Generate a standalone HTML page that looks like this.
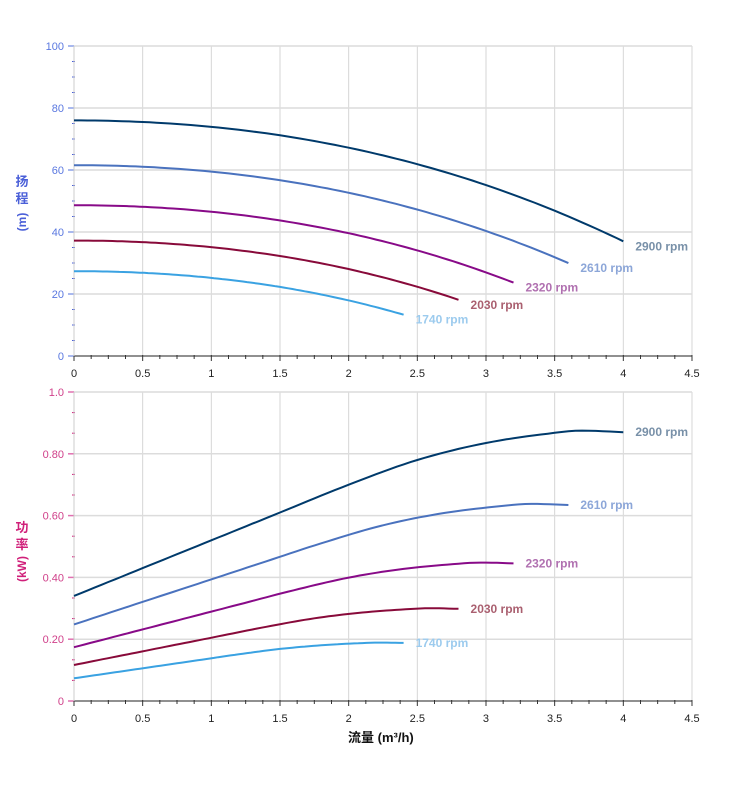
<!DOCTYPE html>
<html><head><meta charset="utf-8">
<style>
html,body{margin:0;padding:0;background:#fff;}
svg text{font-family:"Liberation Sans","Noto Sans CJK SC",sans-serif;}
</style></head>
<body>
<svg id="s" width="752" height="797" xmlns="http://www.w3.org/2000/svg"></svg>
<script>
const s=document.getElementById('s');
let h='';
const X0=74,XU=137.33;
const xp=q=>X0+q*XU;
const yt=v=>356-v*3.1, yb=v=>701-v*309;
function grid(ytop,ybot){
  for(let i=0;i<=9;i++){const x=xp(i*0.5);h+=`<line x1="${x}" y1="${ytop}" x2="${x}" y2="${ybot}" stroke="#d6d6d6" stroke-width="1"/>`;}
}
grid(46,356);grid(392,701);
for(let v=0;v<=100;v+=20){const y=yt(v);h+=`<line x1="74" y1="${y}" x2="692" y2="${y}" stroke="#dcdcdc" stroke-width="1.5"/>`;
 h+=`<line x1="68" y1="${y}" x2="74" y2="${y}" stroke="#8aa0e8" stroke-width="1.5"/><text x="64" y="${y+4}" font-size="11" fill="#5a78e0" text-anchor="end">${v}</text>`;}
for(let v=5;v<100;v+=5){if(v%20)h+=`<line x1="72" y1="${yt(v)}" x2="75" y2="${yt(v)}" stroke="#4a5fd8" stroke-width="1"/>`;}
const pl=["0","0.20","0.40","0.60","0.80","1.0"];
for(let i=0;i<=5;i++){const y=yb(i*0.2);h+=`<line x1="74" y1="${y}" x2="692" y2="${y}" stroke="#dcdcdc" stroke-width="1.5"/>`;
 h+=`<line x1="68" y1="${y}" x2="74" y2="${y}" stroke="#e070b0" stroke-width="1.5"/><text x="64" y="${y+4}" font-size="11" fill="#d0408a" text-anchor="end">${pl[i]}</text>`;}
for(let k=1;k<15;k++){if(k%3)h+=`<line x1="72" y1="${yb(k/15)}" x2="75" y2="${yb(k/15)}" stroke="#d0207a" stroke-width="1"/>`;}
function xaxis(y){
  h+=`<line x1="74" y1="${y}" x2="692" y2="${y}" stroke="#333" stroke-width="1"/>`;
  for(let k=0;k<=36;k++){const x=xp(k*0.125);h+=`<line x1="${x}" y1="${y-1}" x2="${x}" y2="${y+(k%4?3:5)}" stroke="#333" stroke-width="1"/>`;}
  for(let i=0;i<=9;i++){h+=`<text x="${xp(i*0.5)}" y="${y+21}" font-size="11" fill="#222" text-anchor="middle">${i*0.5}</text>`;}
}
xaxis(356);xaxis(701);
h+=`<line x1="74" y1="46" x2="74" y2="356" stroke="#ccc"/><line x1="74" y1="392" x2="74" y2="701" stroke="#ccc"/>`;
h+=`<text x="22" y="186" font-size="13" fill="#4a5fd8" font-weight="bold" text-anchor="middle">扬</text><text x="22" y="203" font-size="13" fill="#4a5fd8" font-weight="bold" text-anchor="middle">程</text><text transform="translate(26,222) rotate(-90)" font-size="12" fill="#4a5fd8" font-weight="bold" text-anchor="middle">(m)</text>`;
h+=`<text x="22" y="532" font-size="13" fill="#d0207a" font-weight="bold" text-anchor="middle">功</text><text x="22" y="549" font-size="13" fill="#d0207a" font-weight="bold" text-anchor="middle">率</text><text transform="translate(26,569) rotate(-90)" font-size="12" fill="#d0207a" font-weight="bold" text-anchor="middle">(kW)</text>`;
h+=`<text x="348" y="742" font-size="13" fill="#111" font-weight="bold">流量 (m³/h)</text>`;
function interp(pts,q){for(let i=0;i<pts.length-1;i++){const [a,va]=pts[i],[b,vb]=pts[i+1];if(q<=b){
 const p0=pts[Math.max(0,i-1)],p3=pts[Math.min(pts.length-1,i+2)];
 const t=(q-a)/(b-a);const m1=(vb-p0[1])/(b-p0[0])*(b-a),m2=(p3[1]-va)/(p3[0]-a)*(b-a);
 const t2=t*t,t3=t2*t;return (2*t3-3*t2+1)*va+(t3-2*t2+t)*m1+(-2*t3+3*t2)*vb+(t3-t2)*m2;}}return pts[pts.length-1][1];}
const Hf=q=>76-1.962*q*q-0.119*q*q*q;
const P=[[0,.34],[0.5,.43],[1,.52],[1.5,.61],[2,.70],[2.5,.78],[3,.835],[3.5,.868],[3.7,.875],[4,.87]];
const S=[[2900,"#003a6b","#7890a8"],[2610,"#4a72be","#8ca6d8"],[2320,"#880a88","#b070b0"],[2030,"#880a3a","#aa6070"],[1740,"#3aa2e2","#9ccbee"]];
for(const [n,c,lc] of S){const r=n/2900;let a='',b='';const qe=4*r;
 for(let i=0;i<=80;i++){const q=qe*i/80;const u=q/r;a+=`${i?'L':'M'}${xp(q).toFixed(1)},${yt(r*r*Hf(u)).toFixed(1)}`;b+=`${i?'L':'M'}${xp(q).toFixed(1)},${yb(r*r*r*interp(P,u)).toFixed(1)}`;}
 h+=`<path d="${a}" fill="none" stroke="${c}" stroke-width="2"/><path d="${b}" fill="none" stroke="${c}" stroke-width="2"/>`;
 const ye=yt(r*r*37),yp=yb(r*r*r*.87);
 h+=`<text x="${xp(qe)+12}" y="${ye+9}" font-size="12" font-weight="bold" fill="${lc}">${n} rpm</text>`;
 h+=`<text x="${xp(qe)+12}" y="${yp+4}" font-size="12" font-weight="bold" fill="${lc}">${n} rpm</text>`;}
s.innerHTML=h;
</script>
</body></html>
